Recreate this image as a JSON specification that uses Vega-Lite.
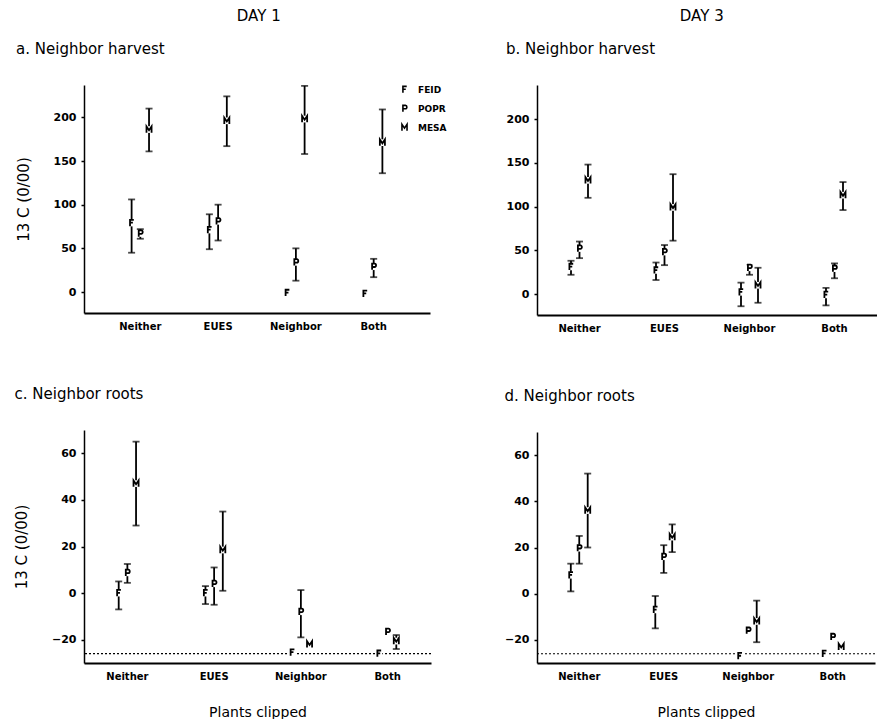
{
 "$schema": "https://vega.github.io/schema/vega-lite/v6.json",
 "background": "white",
 "padding": {"left": 14, "top": 8, "right": 0, "bottom": 0},
 "config": {
   "view": {"stroke": null},
   "font": "DejaVu Sans",
   "title": {"font": "DejaVu Sans", "fontSize": 15, "fontWeight": "normal", "color": "black"},
   "axis": {"grid": false, "domainColor": "black", "labelColor": "black", "labelFont": "DejaVu Sans", "labelFontWeight": "bold", "titleFont": "DejaVu Sans", "titleFontWeight": "normal", "titleColor": "black", "tickColor": "black"},
   "axisX": {"labelFontSize": 10, "labelAngle": 0, "ticks": false, "domainWidth": 2, "labelPadding": 8, "titleFontSize": 14, "titlePadding": 24},
   "axisY": {"labelFontSize": 11, "tickSize": 3, "tickWidth": 1.5, "domainWidth": 1.5, "labelPadding": 5, "titleFontSize": 15, "titlePadding": 22}
 },
 "data": {"values": [
  {"panel":"a","group":"Neither","species":"FEID","mean":79,"lo":45,"hi":106},
  {"panel":"a","group":"Neither","species":"POPR","mean":67,"lo":61,"hi":72},
  {"panel":"a","group":"Neither","species":"MESA","mean":186,"lo":161,"hi":210},
  {"panel":"a","group":"EUES","species":"FEID","mean":71,"lo":49,"hi":89},
  {"panel":"a","group":"EUES","species":"POPR","mean":81,"lo":59,"hi":100},
  {"panel":"a","group":"EUES","species":"MESA","mean":196,"lo":167,"hi":224},
  {"panel":"a","group":"Neighbor","species":"FEID","mean":-1,"lo":null,"hi":null},
  {"panel":"a","group":"Neighbor","species":"POPR","mean":34,"lo":13,"hi":50},
  {"panel":"a","group":"Neighbor","species":"MESA","mean":198,"lo":158,"hi":236},
  {"panel":"a","group":"Both","species":"FEID","mean":-2,"lo":null,"hi":null},
  {"panel":"a","group":"Both","species":"POPR","mean":29,"lo":17,"hi":38},
  {"panel":"a","group":"Both","species":"MESA","mean":171,"lo":136,"hi":209},
  {"panel":"b","group":"Neither","species":"FEID","mean":31,"lo":22,"hi":38},
  {"panel":"b","group":"Neither","species":"POPR","mean":52,"lo":41,"hi":60},
  {"panel":"b","group":"Neither","species":"MESA","mean":130,"lo":110,"hi":148},
  {"panel":"b","group":"EUES","species":"FEID","mean":27,"lo":16,"hi":36},
  {"panel":"b","group":"EUES","species":"POPR","mean":48,"lo":33,"hi":56},
  {"panel":"b","group":"EUES","species":"MESA","mean":99,"lo":61,"hi":137},
  {"panel":"b","group":"Neighbor","species":"FEID","mean":2,"lo":-14,"hi":13},
  {"panel":"b","group":"Neighbor","species":"POPR","mean":30,"lo":22,"hi":33},
  {"panel":"b","group":"Neighbor","species":"MESA","mean":10,"lo":-10,"hi":30},
  {"panel":"b","group":"Both","species":"FEID","mean":-1,"lo":-13,"hi":7},
  {"panel":"b","group":"Both","species":"POPR","mean":29,"lo":18,"hi":35},
  {"panel":"b","group":"Both","species":"MESA","mean":113,"lo":96,"hi":128},
  {"panel":"c","group":"Neither","species":"FEID","mean":0,"lo":-7,"hi":5},
  {"panel":"c","group":"Neither","species":"POPR","mean":8.7,"lo":4.4,"hi":12.5},
  {"panel":"c","group":"Neither","species":"MESA","mean":47,"lo":29,"hi":65},
  {"panel":"c","group":"EUES","species":"FEID","mean":0,"lo":-4.7,"hi":3},
  {"panel":"c","group":"EUES","species":"POPR","mean":4,"lo":-5,"hi":11},
  {"panel":"c","group":"EUES","species":"MESA","mean":18.5,"lo":1,"hi":35},
  {"panel":"c","group":"Neighbor","species":"FEID","mean":-25.5,"lo":null,"hi":null},
  {"panel":"c","group":"Neighbor","species":"POPR","mean":-8,"lo":-19,"hi":1.3},
  {"panel":"c","group":"Neighbor","species":"MESA","mean":-22,"lo":null,"hi":null},
  {"panel":"c","group":"Both","species":"FEID","mean":-26,"lo":null,"hi":null},
  {"panel":"c","group":"Both","species":"POPR","mean":-16.6,"lo":null,"hi":null},
  {"panel":"c","group":"Both","species":"MESA","mean":-20.6,"lo":-24,"hi":-18},
  {"panel":"d","group":"Neither","species":"FEID","mean":8,"lo":1,"hi":13},
  {"panel":"d","group":"Neither","species":"POPR","mean":19.7,"lo":13,"hi":25},
  {"panel":"d","group":"Neither","species":"MESA","mean":36,"lo":20,"hi":52},
  {"panel":"d","group":"EUES","species":"FEID","mean":-7,"lo":-15,"hi":-1},
  {"panel":"d","group":"EUES","species":"POPR","mean":16,"lo":9,"hi":21},
  {"panel":"d","group":"EUES","species":"MESA","mean":24.5,"lo":18,"hi":30},
  {"panel":"d","group":"Neighbor","species":"FEID","mean":-27,"lo":null,"hi":null},
  {"panel":"d","group":"Neighbor","species":"POPR","mean":-16,"lo":null,"hi":null},
  {"panel":"d","group":"Neighbor","species":"MESA","mean":-12,"lo":-21,"hi":-3},
  {"panel":"d","group":"Both","species":"FEID","mean":-26,"lo":null,"hi":null},
  {"panel":"d","group":"Both","species":"POPR","mean":-18.7,"lo":null,"hi":null},
  {"panel":"d","group":"Both","species":"MESA","mean":-23,"lo":null,"hi":null}
 ]},
 "resolve": {"legend": {"shape": "independent"}, "scale": {"x": "independent", "y": "independent", "xOffset": "independent"}},
 "spacing": 57,
 "hconcat": [
  {
   "title": {"text": "DAY 1", "anchor": "middle", "offset": 18, "dx": 28},
   "spacing": 56,
   "resolve": {"legend": {"shape": "independent"}, "scale": {"x": "independent", "y": "independent", "xOffset": "independent"}},
   "vconcat": [
    {
     "title": {"text": "a. Neighbor harvest", "anchor": "start", "offset": 28},
     "width": 346, "height": 228,
     "transform": [{"filter": "datum.panel == 'a'"}],
     "encoding": {
       "x": {"field": "group", "type": "nominal", "sort": ["Neither","EUES","Neighbor","Both"], "scale": {"paddingInner": 0.664, "paddingOuter": 0.556}, "axis": {"title": null}},
       "xOffset": {"field": "species", "type": "nominal", "sort": ["FEID","POPR","MESA"]}
     },
     "layer": [
      {"mark": {"type": "rule", "color": "black", "strokeWidth": 1.8}, "encoding": {"y": {"field": "lo", "type": "quantitative", "title": "13 C (0/00)", "scale": {"domain": [-24, 237], "nice": false, "zero": false}, "axis": {"values": [0,50,100,150,200]}}, "y2": {"field": "hi"}}},
      {"mark": {"type": "tick", "color": "black", "size": 7, "thickness": 1.8}, "encoding": {"y": {"field": "lo", "type": "quantitative", "title": "13 C (0/00)"}}},
      {"mark": {"type": "tick", "color": "black", "size": 7, "thickness": 1.8}, "encoding": {"y": {"field": "hi", "type": "quantitative", "title": "13 C (0/00)"}}},
      {"mark": {"type": "square", "color": "white", "filled": true, "size": 45, "opacity": 1}, "encoding": {"y": {"field": "mean", "type": "quantitative", "title": "13 C (0/00)"}}},
      {"mark": {"type": "point", "filled": false, "color": "black", "strokeWidth": 1.8, "size": 40, "opacity": 1}, "encoding": {"y": {"field": "mean", "type": "quantitative", "title": "13 C (0/00)"}, "shape": {"field": "species", "type": "nominal", "scale": {"domain": ["FEID","POPR","MESA"], "range": ["M-0.5,1L-0.5,-1L0.7,-1M-0.5,-0.1L0.4,-0.1", "M-0.5,1L-0.5,-1L0.3,-1C0.9,-1 0.9,0.1 0.3,0.1L-0.5,0.1", "M-0.8,1L-0.8,-1L0,0.2L0.8,-1L0.8,1"]}, "legend": {"title": null, "orient": "none", "legendX": 316, "legendY": 0, "labelFont": "DejaVu Sans", "labelFontWeight": "bold", "labelFontSize": 9, "labelColor": "black", "symbolSize": 40, "symbolStrokeWidth": 1.6, "symbolStrokeColor": "black", "rowPadding": 6, "labelOffset": 9}}}}
     ]
    },
    {
     "title": {"text": "c. Neighbor roots", "anchor": "start", "offset": 28},
     "width": 347, "height": 233,
     "layer": [
      {"data": {"values": [{"base": -26}]}, "mark": {"type": "rule", "color": "black", "strokeWidth": 1.2, "strokeDash": [2, 2]}, "encoding": {"y": {"field": "base", "type": "quantitative", "title": "13 C (0/00)"}}},
      {
       "transform": [{"filter": "datum.panel == 'c'"}],
       "encoding": {
         "x": {"field": "group", "type": "nominal", "sort": ["Neither","EUES","Neighbor","Both"], "scale": {"paddingInner": 0.7, "paddingOuter": 0.35}, "axis": {"title": "Plants clipped"}},
         "xOffset": {"field": "species", "type": "nominal", "sort": ["FEID","POPR","MESA"]}
       },
       "layer": [
        {"mark": {"type": "rule", "color": "black", "strokeWidth": 1.8}, "encoding": {"y": {"field": "lo", "type": "quantitative", "title": "13 C (0/00)", "scale": {"domain": [-30, 70], "nice": false, "zero": false}, "axis": {"values": [-20,0,20,40,60]}}, "y2": {"field": "hi"}}},
        {"mark": {"type": "tick", "color": "black", "size": 7, "thickness": 1.8}, "encoding": {"y": {"field": "lo", "type": "quantitative", "title": "13 C (0/00)"}}},
        {"mark": {"type": "tick", "color": "black", "size": 7, "thickness": 1.8}, "encoding": {"y": {"field": "hi", "type": "quantitative", "title": "13 C (0/00)"}}},
        {"mark": {"type": "square", "color": "white", "filled": true, "size": 45, "opacity": 1}, "encoding": {"y": {"field": "mean", "type": "quantitative", "title": "13 C (0/00)"}}},
        {"mark": {"type": "point", "filled": false, "color": "black", "strokeWidth": 1.8, "size": 40, "opacity": 1}, "encoding": {"y": {"field": "mean", "type": "quantitative", "title": "13 C (0/00)"}, "shape": {"field": "species", "type": "nominal", "scale": {"domain": ["FEID","POPR","MESA"], "range": ["M-0.5,1L-0.5,-1L0.7,-1M-0.5,-0.1L0.4,-0.1", "M-0.5,1L-0.5,-1L0.3,-1C0.9,-1 0.9,0.1 0.3,0.1L-0.5,0.1", "M-0.8,1L-0.8,-1L0,0.2L0.8,-1L0.8,1"]}, "legend": null}}}
       ]
      }
     ]
    }
   ]
  },
  {
   "title": {"text": "DAY 3", "anchor": "middle", "offset": 18, "dx": 11},
   "spacing": 56,
   "resolve": {"legend": {"shape": "independent"}, "scale": {"x": "independent", "y": "independent", "xOffset": "independent"}},
   "vconcat": [
    {
     "title": {"text": "b. Neighbor harvest", "anchor": "start", "offset": 28},
     "width": 340, "height": 230,
     "transform": [{"filter": "datum.panel == 'b'"}],
     "encoding": {
       "x": {"field": "group", "type": "nominal", "sort": ["Neither","EUES","Neighbor","Both"], "scale": {"paddingInner": 0.7, "paddingOuter": 0.35}, "axis": {"title": null}},
       "xOffset": {"field": "species", "type": "nominal", "sort": ["FEID","POPR","MESA"]}
     },
     "layer": [
      {"mark": {"type": "rule", "color": "black", "strokeWidth": 1.8}, "encoding": {"y": {"field": "lo", "type": "quantitative", "title": null, "scale": {"domain": [-24, 239], "nice": false, "zero": false}, "axis": {"values": [0,50,100,150,200]}}, "y2": {"field": "hi"}}},
      {"mark": {"type": "tick", "color": "black", "size": 7, "thickness": 1.8}, "encoding": {"y": {"field": "lo", "type": "quantitative", "title": null}}},
      {"mark": {"type": "tick", "color": "black", "size": 7, "thickness": 1.8}, "encoding": {"y": {"field": "hi", "type": "quantitative", "title": null}}},
      {"mark": {"type": "square", "color": "white", "filled": true, "size": 45, "opacity": 1}, "encoding": {"y": {"field": "mean", "type": "quantitative", "title": null}}},
      {"mark": {"type": "point", "filled": false, "color": "black", "strokeWidth": 1.8, "size": 40, "opacity": 1}, "encoding": {"y": {"field": "mean", "type": "quantitative", "title": null}, "shape": {"field": "species", "type": "nominal", "scale": {"domain": ["FEID","POPR","MESA"], "range": ["M-0.5,1L-0.5,-1L0.7,-1M-0.5,-0.1L0.4,-0.1", "M-0.5,1L-0.5,-1L0.3,-1C0.9,-1 0.9,0.1 0.3,0.1L-0.5,0.1", "M-0.8,1L-0.8,-1L0,0.2L0.8,-1L0.8,1"]}, "legend": null}}}
     ]
    },
    {
     "title": {"text": "d. Neighbor roots", "anchor": "start", "offset": 28},
     "width": 338, "height": 231,
     "layer": [
      {"data": {"values": [{"base": -26}]}, "mark": {"type": "rule", "color": "black", "strokeWidth": 1.2, "strokeDash": [2, 2]}, "encoding": {"y": {"field": "base", "type": "quantitative", "title": null}}},
      {
       "transform": [{"filter": "datum.panel == 'd'"}],
       "encoding": {
         "x": {"field": "group", "type": "nominal", "sort": ["Neither","EUES","Neighbor","Both"], "scale": {"paddingInner": 0.7, "paddingOuter": 0.35}, "axis": {"title": "Plants clipped"}},
         "xOffset": {"field": "species", "type": "nominal", "sort": ["FEID","POPR","MESA"]}
       },
       "layer": [
        {"mark": {"type": "rule", "color": "black", "strokeWidth": 1.8}, "encoding": {"y": {"field": "lo", "type": "quantitative", "title": null, "scale": {"domain": [-30, 70], "nice": false, "zero": false}, "axis": {"values": [-20,0,20,40,60]}}, "y2": {"field": "hi"}}},
        {"mark": {"type": "tick", "color": "black", "size": 7, "thickness": 1.8}, "encoding": {"y": {"field": "lo", "type": "quantitative", "title": null}}},
        {"mark": {"type": "tick", "color": "black", "size": 7, "thickness": 1.8}, "encoding": {"y": {"field": "hi", "type": "quantitative", "title": null}}},
        {"mark": {"type": "square", "color": "white", "filled": true, "size": 45, "opacity": 1}, "encoding": {"y": {"field": "mean", "type": "quantitative", "title": null}}},
        {"mark": {"type": "point", "filled": false, "color": "black", "strokeWidth": 1.8, "size": 40, "opacity": 1}, "encoding": {"y": {"field": "mean", "type": "quantitative", "title": null}, "shape": {"field": "species", "type": "nominal", "scale": {"domain": ["FEID","POPR","MESA"], "range": ["M-0.5,1L-0.5,-1L0.7,-1M-0.5,-0.1L0.4,-0.1", "M-0.5,1L-0.5,-1L0.3,-1C0.9,-1 0.9,0.1 0.3,0.1L-0.5,0.1", "M-0.8,1L-0.8,-1L0,0.2L0.8,-1L0.8,1"]}, "legend": null}}}
       ]
      }
     ]
    }
   ]
  }
 ]
}
